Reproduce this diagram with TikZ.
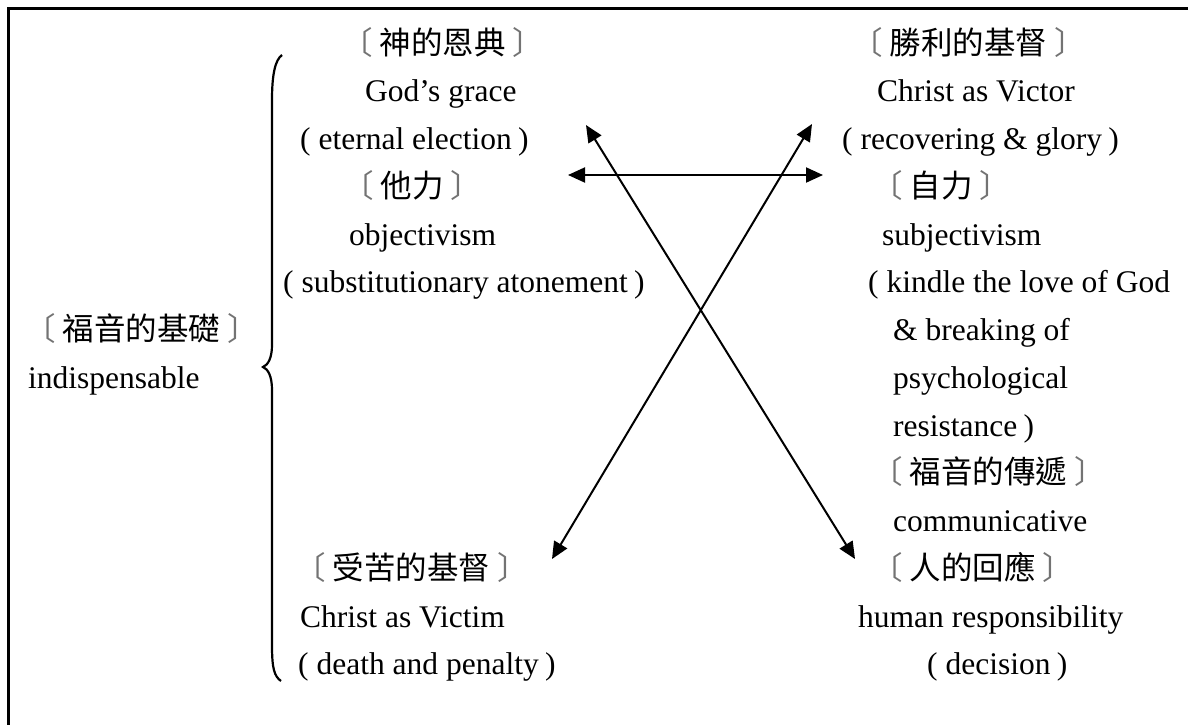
\documentclass[tikz,border=0pt]{standalone}
\usepackage{fontspec}
\setmainfont{Liberation Serif}
\newfontfamily\cjk{Noto Sans CJK TC}
\usetikzlibrary{arrows.meta}
\newcommand\lpar{(\hspace{0.25em}}
\newcommand\rpar{\hspace{0.2em})}
\newcommand\lbk{{\color{black!55}〔}\kern7pt}
\newcommand\rbk{\kern7pt{\color{black!55}〕}}
\begin{document}
\begin{tikzpicture}[x=1pt,y=-1pt,
  lt/.style={anchor=base west, inner sep=0pt, font=\fontsize{31.5}{38}\selectfont},
  ct/.style={anchor=base west, inner sep=0pt, font=\fontsize{31.5}{38}\selectfont\cjk},
  arr/.style={line width=2pt, {Triangle[length=17pt,width=15pt]}-{Triangle[length=17pt,width=15pt]}},
  brace/.style={line width=2.2pt}]
\useasboundingbox (0,0) rectangle (1188,724);
\begin{scope}
\clip (0,0) rectangle (1188,724);
\draw[line width=3pt] (8,760) -- (8,8) -- (1220,8);
\end{scope}
% left column
\node[ct] (g1) at (341,54) {\lbk 神的恩典\rbk};
\node[lt] (g2) at (365,101.75) {God’s grace};
\node[lt] (g3) at (300,149.5) {\lpar eternal election\rpar};
\node[ct] (o1) at (342,197.25) {\lbk 他力\rbk};
\node[lt] (o2) at (349,245) {objectivism};
\node[lt] (o3) at (283,292.75) {\lpar substitutionary atonement\rpar};
% right column
\node[ct] (v1) at (851,54) {\lbk 勝利的基督\rbk};
\node[lt] (v2) at (877,101.75) {Christ as Victor};
\node[lt] (v3) at (842,149.5) {\lpar recovering \& glory\rpar};
\node[ct] (s1) at (871,197.25) {\lbk 自力\rbk};
\node[lt] (s2) at (882,245) {subjectivism};
\node[lt] (s3) at (868,292.75) {\lpar kindle the love of God};
\node[lt] (s4) at (893,340.5) {\& breaking of};
\node[lt] (s5) at (893,388.25) {psychological};
\node[lt] (s6) at (893,436) {resistance\rpar};
\node[ct] (c1) at (871,483.75) {\lbk 福音的傳遞\rbk};
\node[lt] (c2) at (893,531.5) {communicative};
\node[ct] (h1) at (871,579.25) {\lbk 人的回應\rbk};
\node[lt] (h2) at (858,627) {human responsibility};
\node[lt] (h3) at (927,674.75) {\lpar decision\rpar};
% left middle
\node[ct] (f1) at (24,340.5) {\lbk 福音的基礎\rbk};
\node[lt] (f2) at (28,388.25) {indispensable};
% left bottom
\node[ct] (p1) at (294,579.25) {\lbk 受苦的基督\rbk};
\node[lt] (p2) at (300,627) {Christ as Victim};
\node[lt] (p3) at (298,674.75) {\lpar death and penalty\rpar};
% brace
\draw[brace] (282,55) .. controls (275,60) and (272,75) .. (272,100) -- (272,345)
  .. controls (272,358) and (268,365) .. (263,367)
  .. controls (268,369) and (272,376) .. (272,390) -- (272,645)
  .. controls (272,668) and (274,676) .. (281,681);
% arrow end points
\coordinate (hl) at (568,175);
\coordinate (hr) at (823,175);
\coordinate (gtop) at (586,125);
\coordinate (hbot) at (855,559);
\coordinate (vtop) at (812,124);
\coordinate (pbot) at (552,559);
\draw[arr] (hl) -- (hr);
\draw[arr] (gtop) -- (hbot);
\draw[arr] (pbot) -- (vtop);
\end{tikzpicture}
\end{document}
